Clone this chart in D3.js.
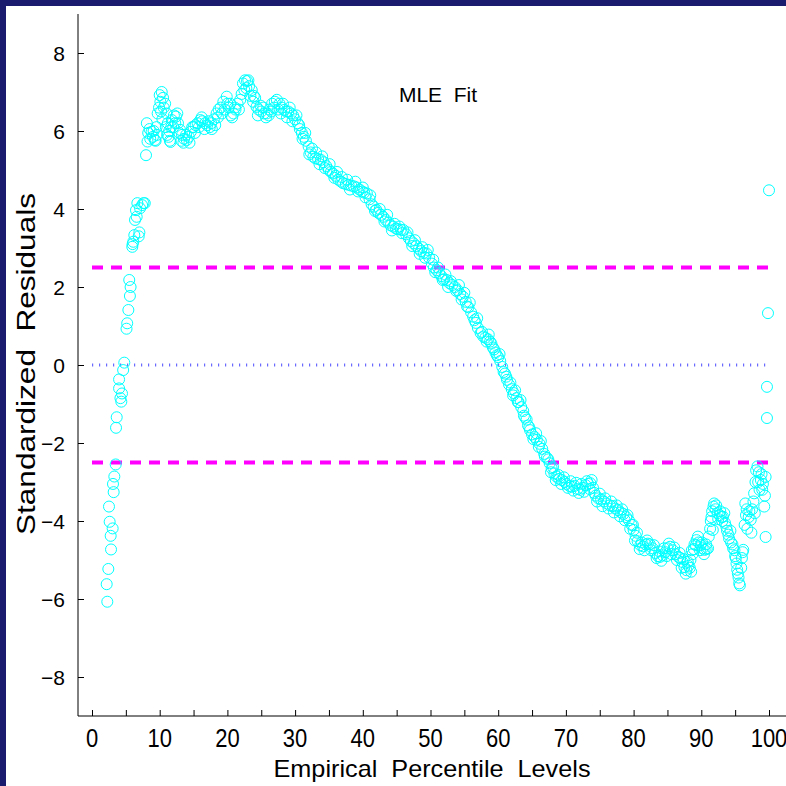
<!DOCTYPE html>
<html>
<head>
<meta charset="utf-8">
<script src="https://cdn.jsdelivr.net/npm/d3@7"></script>
<style>
  html, body { margin:0; padding:0; background:#1a1a6e; }
  #canvas { width:786px; height:786px; position:relative; }
  text { font-family: "Liberation Sans", Arial, sans-serif; }
</style>
</head>
<body>
<div id="canvas" class="canvas"></div>
<script>
// percentile levels (x) and standardized residuals (y)
var pct = [
  2.26,2.17,2.41,2.61,2.76,2.81,3.05,2.51,3.2,3.1,3.3,3.5,3.55,3.65,4.0,4.0,4.33,4.43,4.2,4.6,4.77,
  5.1,5.2,5.37,5.6,5.7,5.5,5.95,6.1,6.25,6.0,6.35,6.5,6.6,6.7,7.0,6.9,7.1,7.4,7.6,7.8,
  7.98,8.2,8.1,8.5,8.8,9.0,9.3,9.55,9.6,9.7,
  10.0,10.3,10.5,10.8,11.0,11.2,11.3,11.5,11.7,11.8,12.1,12.4,12.7,13.0,13.3,13.6,14.0,14.3,14.6,
  15.0,15.3,15.6,16.0,16.3,16.7,17.0,17.4,17.7,18.0,18.4,18.7,19.0,19.4,19.9,20.2,20.5,20.9,21.2,
  21.5,21.9,22.3,22.6,22.9,23.2,23.6,23.9,24.3,24.6,25.0,25.4,25.8,26.2,26.6,27.0,27.3,27.7,28.0,
  28.4,28.7,29.0,29.4,29.7,30.0,30.4,30.7,31.0,31.3,31.6,32.0,32.3,32.7,33.0,33.4,33.8,34.2,34.6,
  35.0,35.3,35.6,36.0,36.4,36.8,37.1,37.5,37.9,38.3,38.7,39.1,39.5,39.9,40.2,40.6,41.0,41.3,41.6,
  42.0,42.3,42.7,43.0,43.4,43.8,44.1,44.5,44.9,45.2,45.6,46.0,46.4,46.8,47.1,47.5,47.9,48.3,48.6,
  49.0,49.4,49.8,50.2,50.5,50.9,51.3,51.6,52.0,52.4,52.8,53.2,53.6,54.0,54.4,54.8,55.2,55.6,56.0,
  56.3,56.7,57.0,57.4,57.8,58.1,58.5,58.8,59.2,59.6,60.0,60.3,60.6,61.0,61.3,61.6,62.0,62.3,62.7,
  63.0,63.4,63.7,64.0,64.4,64.7,65.0,65.4,65.7,66.1,66.5,66.8,67.2,67.6,67.9,68.3,68.6,69.0,69.4,
  69.8,70.1,70.5,70.9,71.3,71.7,72.1,72.5,72.9,73.3,73.6,74.0,74.4,74.8,75.2,75.6,76.0,76.5,76.9,
  77.3,77.7,78.1,78.5,78.9,79.3,79.7,80.0,80.3,80.6,81.0,81.4,81.8,82.1,82.4,82.8,83.2,83.6,83.9,
  84.3,84.7,85.0,85.4,85.8,86.2,86.6,86.9,87.2,87.5,87.8,88.1,88.4,88.7,89.0,89.3,89.6,89.9,90.2,
  90.5,90.8,91.1,91.4,91.6,91.8,92.1,92.4,92.7,93.0,93.2,93.5,93.8,94.1,94.4,94.7,95.0,95.2,95.4,
  95.6,95.7,95.9,96.1,96.2,96.4,96.5,96.7,97.0,97.3,97.5,97.8,98.0,98.3,98.5,98.8,99.0,99.3,99.5,
  91.7,88.5,99.5,
  99.7,99.7,99.85,100
];
var resid = [
  -6.07,-5.62,-5.23,-4.02,-4.38,-4.73,-4.19,-3.63,-3.26,-3.05,-2.86,-2.55,-1.61,-1.34,-0.6,-0.37,-0.94,-0.73,-0.85,-0.13,0.06,
  0.93,1.07,1.41,1.77,2.0,2.18,3.03,3.16,3.33,3.1,3.72,3.97,3.8,4.15,3.4,3.3,4.02,4.1,4.15,4.15,
  5.38,5.73,6.2,6.05,5.98,5.85,5.77,6.1,5.9,6.45,
  6.92,7.0,6.85,6.7,6.45,6.2,5.85,5.75,6.1,6.28,6.4,6.37,6.2,6.03,5.9,5.8,5.77,5.85,5.98,
  6.1,6.15,6.2,6.28,6.25,6.2,6.15,6.1,6.05,6.3,6.45,6.55,6.6,6.75,6.88,6.6,6.4,6.45,6.55,
  6.7,6.8,7.22,7.3,7.28,7.15,7.05,6.9,6.62,6.55,6.5,6.45,6.45,6.55,6.7,6.75,6.8,6.7,6.6,
  6.54,6.5,6.5,6.45,6.4,6.3,6.2,6.05,5.95,5.85,5.75,5.6,5.45,5.34,5.3,5.28,5.26,5.2,5.1,
  5.0,4.95,4.91,4.85,4.75,4.7,4.66,4.64,4.62,4.6,4.58,4.55,4.5,4.45,4.42,4.4,4.25,4.12,4.06,
  3.98,3.9,3.85,3.8,3.72,3.65,3.58,3.55,3.5,3.48,3.47,3.46,3.35,3.25,3.18,3.12,3.05,2.98,2.92,
  2.88,2.86,2.75,2.6,2.5,2.43,2.35,2.28,2.2,2.18,2.1,2.05,2.0,1.92,1.82,1.75,1.62,1.48,1.35,
  1.24,1.08,0.95,0.82,0.73,0.7,0.66,0.6,0.45,0.32,0.2,0.1,-0.05,-0.22,-0.38,-0.5,-0.62,-0.72,-0.85,
  -0.95,-1.08,-1.18,-1.35,-1.55,-1.67,-1.78,-1.85,-1.92,-2.02,-2.15,-2.28,-2.38,-2.52,-2.65,-2.78,-2.86,-2.92,-2.95,
  -3.0,-3.05,-3.1,-3.12,-3.1,-3.18,-3.2,-3.15,-3.08,-3.05,-3.03,-3.15,-3.35,-3.42,-3.45,-3.5,-3.55,-3.6,-3.62,
  -3.68,-3.72,-3.78,-3.82,-3.9,-3.98,-4.1,-4.23,-4.38,-4.52,-4.62,-4.65,-4.6,-4.58,-4.6,-4.7,-4.82,-4.9,-4.92,
  -4.88,-4.8,-4.7,-4.66,-4.75,-4.85,-4.92,-4.95,-5.05,-5.18,-5.26,-5.15,-5.0,-4.85,-4.6,-4.49,-4.55,-4.62,-4.7,
  -4.74,-4.72,-4.4,-4.0,-3.75,-3.63,-3.7,-3.8,-3.85,-3.9,-3.89,-4.05,-4.25,-4.45,-4.55,-4.7,-4.9,-5.09,-5.35,
  -5.6,-5.65,-5.2,-4.8,-4.74,-4.1,-3.55,-3.7,-3.9,-3.97,-3.7,-3.29,-3.0,-2.6,-2.75,-2.95,-3.2,-3.63,-4.41,
  -4.23,-5.3,-2.87,
  -1.36,-0.56,1.33,4.48
];
// second trace of the same band (the cloud is thicker than one line of circles)
var pctB = [
  8.3,8.6,9.1,9.4,9.9,10.1,10.2,10.4,10.6,10.9,11.1,11.4,11.6,12.0,12.3,12.6,12.9,13.2,13.5,13.9,
  14.4,14.8,15.2,15.8,16.2,16.6,17.2,17.6,18.2,18.6,19.2,19.6,20.0,20.4,20.7,21.1,21.7,22.1,22.5,22.8,
  23.1,23.4,23.8,24.1,24.5,24.9,25.3,25.7,26.1,26.5,26.9,27.5,27.9,28.2,28.8,29.2,29.6,30.2,30.6,31.1,
  31.5,32.1,32.5,33.1,33.6,34.0,34.4,35.1,35.8,36.2,36.9,37.7,38.1,38.9,39.3,40.0,40.4,41.1,41.8,42.5,
  43.2,43.6,44.3,44.7,45.4,45.8,46.6,47.3,47.7,48.4,48.8,49.2,49.6,50.4,50.7,51.1,51.8,52.2,52.6,53.0,
  53.8,54.2,54.6,55.0,55.4,55.8,56.5,56.9,57.6,58.3,58.6,59.0,59.4,59.8,60.2,60.8,61.2,61.8,62.2,62.5,
  62.9,63.3,63.8,64.2,64.6,65.2,65.6,66.0,66.3,66.9,67.4,67.8,68.1,68.5,68.9,69.3,69.7,70.3,70.7,71.1,
  71.5,71.9,72.3,72.7,73.1,73.5,73.8,74.2,74.6,75.0,75.4,75.8,76.3,76.7,77.1,77.5,78.0,78.3,78.7,79.1,
  79.5,79.9,80.2,80.5,80.9,81.2,81.6,82.0,82.6,83.0,83.4,83.8,84.1,84.5,84.9,85.2,85.6,86.0,86.4,86.8,
  87.1,87.4,87.7,88.0,88.3,88.6,88.9,89.2,89.5,89.8,90.1,90.4,90.7,91.0,91.3,91.5,91.9,92.2,92.5,92.8,
  93.1,93.4,93.7,94.0,94.3,94.6,94.9,95.1,95.3,95.5,96.0,96.6,96.8,97.1,97.4,97.7,97.9,98.1,98.4,98.6,
  98.9,99.1,99.4
];
var residB = [
  5.95,5.8,6.0,5.75,6.6,6.75,6.5,6.3,6.6,6.1,5.9,6.0,5.72,6.1,6.2,6.45,5.95,5.75,5.7,5.9,
  5.7,6.1,5.95,6.1,6.35,6.05,6.25,6.2,6.15,6.35,6.45,6.55,6.7,6.7,6.35,6.6,6.55,6.95,7.05,7.1,
  7.3,6.9,6.75,6.85,6.4,6.65,6.6,6.35,6.4,6.5,6.6,6.55,6.45,6.7,6.35,6.6,6.25,6.4,6.15,5.8,
  5.95,5.4,5.55,5.45,5.15,5.35,5.05,5.15,4.8,4.95,4.82,4.75,4.5,4.7,4.45,4.55,4.3,4.35,3.95,4.0,
  3.68,3.85,3.45,3.62,3.55,3.38,3.4,3.05,3.2,2.85,3.02,2.75,2.95,2.7,2.38,2.5,2.18,2.32,2.0,2.15,
  1.9,2.05,1.68,1.85,1.5,1.6,1.15,1.2,0.85,0.6,0.78,0.55,0.4,0.25,0.28,-0.18,-0.3,-0.45,-0.78,-0.65,
  -0.95,-0.9,-1.3,-1.4,-1.6,-1.9,-1.75,-2.1,-1.95,-2.35,-2.42,-2.75,-2.62,-2.95,-2.82,-3.05,-2.88,-3.15,-2.98,-3.22,
  -3.02,-3.28,-3.05,-3.25,-2.98,-3.18,-2.95,-3.28,-3.5,-3.3,-3.62,-3.42,-3.68,-3.5,-3.78,-3.6,-3.88,-3.7,-3.98,-3.85,
  -4.2,-4.1,-4.5,-4.3,-4.72,-4.55,-4.75,-4.5,-4.75,-4.62,-4.95,-4.78,-5.02,-4.7,-4.9,-4.58,-4.85,-4.68,-5.0,-4.82,
  -5.2,-4.98,-5.35,-5.05,-5.2,-4.75,-4.72,-4.62,-4.4,-4.75,-4.55,-4.85,-4.6,-4.7,-4.2,-3.9,-3.55,-3.6,-3.95,-3.75,
  -4.0,-3.8,-4.15,-4.35,-4.25,-4.6,-4.75,-4.95,-5.25,-5.45,-4.95,-3.85,-4.2,-3.75,-4.3,-3.5,-3.8,-2.7,-3.0,-3.2,
  -2.8,-3.05,-3.35
];
var xTicks = [0,10,20,30,40,50,60,70,80,90,100];
var yTicks = [-8,-6,-4,-2,0,2,4,6,8];
var limits = [-2.5, 2.5];

var W = 786, H = 786;
var frame = 6;

var svg = d3.select('.canvas')
    .append('svg')
    .attr('width', W)
    .attr('height', H);

// white paper inside the navy frame
svg.append('rect')
    .attr('x', frame).attr('y', frame)
    .attr('width', W - frame).attr('height', H - frame)
    .attr('fill', '#fff');

var ScaleX = d3.scaleLinear().domain([0, 100]).range([92, 769]);
var ScaleY = d3.scaleLinear().domain([-8, 8]).range([677, 53]);

var axisLeftX = 78, axisBottomY = 716;

// axes lines
svg.append('line')
    .attr('x1', axisLeftX).attr('x2', axisLeftX)
    .attr('y1', 14).attr('y2', axisBottomY)
    .attr('stroke', '#000').attr('stroke-width', 1);
svg.append('line')
    .attr('x1', axisLeftX).attr('x2', W)
    .attr('y1', axisBottomY).attr('y2', axisBottomY)
    .attr('stroke', '#000').attr('stroke-width', 1);

// y ticks + labels
var yAxis = d3.axisRight(ScaleY)
    .tickValues(yTicks)
    .tickSize(6)
    .tickFormat(function(d){ return ''; });
var gy = svg.append('g')
    .attr('transform', 'translate(' + axisLeftX + ',0)')
    .call(yAxis);
gy.select('.domain').remove();
gy.selectAll('.tick line').attr('stroke', '#000');

svg.selectAll('.ylab')
    .data(yTicks)
    .enter()
    .append('text')
    .attr('class', 'ylab')
    .attr('x', 65)
    .attr('y', function(d){ return ScaleY(d) + 7.5; })
    .attr('text-anchor', 'end')
    .attr('font-size', 21)
    .text(function(d){ return d < 0 ? '\u2212' + Math.abs(d) : d; });

// x ticks every 5, labels every 10
var xAxis = d3.axisTop(ScaleX)
    .tickValues(d3.range(0, 101, 5))
    .tickSize(6)
    .tickFormat(function(d){ return ''; });
var gx = svg.append('g')
    .attr('transform', 'translate(0,' + axisBottomY + ')')
    .call(xAxis);
gx.select('.domain').remove();
gx.selectAll('.tick line').attr('stroke', '#000');

svg.selectAll('.xlab')
    .data(xTicks)
    .enter()
    .append('text')
    .attr('class', 'xlab')
    .attr('transform', function(d){ return 'translate(' + ScaleX(d) + ',747) scale(0.88,1)'; })
    .attr('text-anchor', 'middle')
    .attr('font-size', 25)
    .text(function(d){ return d; });

// reference lines
svg.selectAll('.limit')
    .data(limits)
    .enter()
    .append('line')
    .attr('class', 'limit')
    .attr('x1', ScaleX(0)).attr('x2', ScaleX(100))
    .attr('y1', function(d){ return ScaleY(d); })
    .attr('y2', function(d){ return ScaleY(d); })
    .attr('stroke', '#ff00ff')
    .attr('stroke-width', 4)
    .attr('stroke-dasharray', '11,8');

svg.append('line')
    .attr('x1', ScaleX(0)).attr('x2', ScaleX(100))
    .attr('y1', ScaleY(0)).attr('y2', ScaleY(0))
    .attr('stroke', '#6a6aff')
    .attr('stroke-width', 3)
    .attr('stroke-dasharray', '1.2,5.8');

// residual points
var rows = pct.map(function(p, i){ return {p:p, r:resid[i]}; })
    .concat(pctB.map(function(p, i){ return {p:p, r:residB[i]}; }));
svg.append('g').selectAll('circle')
    .data(rows)
    .enter()
    .append('circle')
    .attr('cx', function(d){ return ScaleX(d.p); })
    .attr('cy', function(d){ return ScaleY(d.r); })
    .attr('r', 5.5)
    .attr('fill', 'none')
    .attr('stroke', '#00ffff')
    .attr('stroke-width', 1);

// titles
svg.append('text')
    .attr('x', 438).attr('y', 102)
    .attr('text-anchor', 'middle')
    .attr('font-size', 21)
    .style('white-space', 'pre')
    .text('MLE  Fit');

svg.append('text')
    .attr('x', 432).attr('y', 777)
    .attr('text-anchor', 'middle')
    .attr('font-size', 24)
    .attr('textLength', 317)
    .attr('lengthAdjust', 'spacingAndGlyphs')
    .style('white-space', 'pre')
    .text('Empirical  Percentile  Levels');

svg.append('text')
    .attr('transform', 'translate(35,364) rotate(-90)')
    .attr('text-anchor', 'middle')
    .attr('font-size', 25)
    .attr('textLength', 342)
    .attr('lengthAdjust', 'spacingAndGlyphs')
    .style('white-space', 'pre')
    .text('Standardized  Residuals');
</script>
</body>
</html>
